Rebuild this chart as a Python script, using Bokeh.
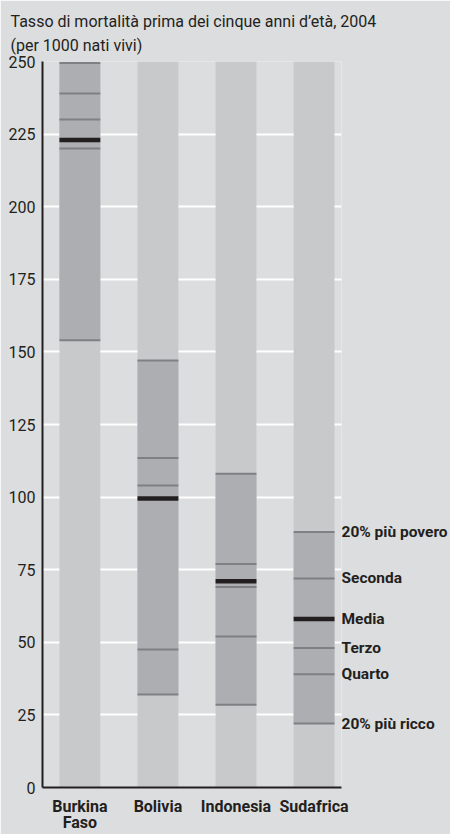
from bokeh.plotting import figure
from bokeh.models import Range1d, FixedTicker, LinearAxis
from bokeh.embed import file_html
from bokeh.resources import INLINE

# ---- data ----
countries = ["Burkina\nFaso", "Bolivia", "Indonesia", "Sudafrica"]
q_poorest = [249.5, 147.0, 108.0, 88.0]
q_second = [239.0, 113.5, 77.0, 72.0]
q_third = [230.0, 104.0, 69.0, 48.0]
q_fourth = [220.0, 47.5, 52.0, 39.0]
q_richest = [154.0, 32.0, 28.5, 22.0]
mean_rate = [223.0, 99.5, 71.0, 58.0]
y_ticks = [0, 25, 50, 75, 100, 125, 150, 175, 200, 225, 250]
scale_max = 250
legend_labels = ["20% più povero", "Seconda", "Media", "Terzo", "Quarto", "20% più ricco"]
title_text = "Tasso di mortalità prima dei cinque anni d’età, 2004\n(per 1000 nati vivi)"

# ---- styling ----
BG = "#dcdddf"
LIGHT = "#c8c9cb"
DARK = "#adaeb1"
QLINE = "#7f8083"
INK = "#231f20"
FONT = "Roboto"

W, H = 450, 834
FL, FR, FT, FB = 42, 108, 61, 47
PXU = 78.33                      # pixels per category step
x_start = -37.5 / PXU
x_end = x_start + (W - FL - FR) / PXU
bw = 41 / PXU

p = figure(width=W, height=H, x_range=Range1d(x_start, x_end), y_range=Range1d(0, scale_max),
           output_backend="svg", toolbar_location=None,
           min_border_left=FL, min_border_right=FR, min_border_top=FT, min_border_bottom=FB,
           background_fill_color=BG, border_fill_color=BG, outline_line_color=None)

xs = list(range(len(countries)))

# title
p.title.text = title_text
p.title.align = "left"
p.title.offset = -32
p.title.text_font = FONT
p.title.text_font_style = "normal"
p.title.text_font_size = "16px"
p.title.text_color = INK
p.title.standoff = 14
p.title.text_line_height = 1.25

# grid
p.xgrid.visible = False
p.ygrid.ticker = FixedTicker(ticks=y_ticks)
p.ygrid.grid_line_color = "white"
p.ygrid.grid_line_width = 2

# axes
p.yaxis.ticker = FixedTicker(ticks=y_ticks)
p.xaxis.ticker = FixedTicker(ticks=xs)
p.xaxis.major_label_overrides = {i: c for i, c in enumerate(countries)}
for ax in (p.xaxis[0], p.yaxis[0]):
    ax.major_tick_in = 0
    ax.major_tick_out = 0
    ax.minor_tick_line_color = None
    ax.axis_line_color = INK
    ax.axis_line_width = 2
    ax.major_label_text_color = INK
    ax.major_label_text_font = FONT
    ax.major_label_text_font_size = "16px"
p.yaxis[0].major_label_standoff = 7
p.xaxis[0].major_label_text_font_style = "bold"
p.xaxis[0].major_label_text_font_size = "16px"
p.xaxis[0].major_label_standoff = 9
p.xaxis[0].major_label_text_line_height = 0.85

# bars
p.vbar(x=xs, width=bw, bottom=0, top=scale_max, fill_color=LIGHT, line_color=None)
p.vbar(x=xs, width=bw, bottom=q_richest, top=q_poorest, fill_color=DARK, line_color=None)

x0 = [x - bw / 2 for x in xs]
x1 = [x + bw / 2 for x in xs]
for q in (q_poorest, q_second, q_third, q_fourth, q_richest):
    p.segment(x0=x0, x1=x1, y0=q, y1=q, line_color=QLINE, line_width=2)
p.segment(x0=x0, x1=x1, y0=mean_rate, y1=mean_rate, line_color=INK, line_width=4.5)

# legend: a right-hand axis whose ticks sit at the last country's values
last = len(countries) - 1
legend_y = [q_poorest[last], q_second[last], mean_rate[last], q_third[last], q_fourth[last], q_richest[last]]
rax = LinearAxis(ticker=FixedTicker(ticks=legend_y),
                 major_label_overrides={v: t for v, t in zip(legend_y, legend_labels)},
                 axis_line_color=None, major_tick_in=0, major_tick_out=0, minor_tick_line_color=None,
                 major_label_standoff=0, major_label_text_font=FONT, major_label_text_font_style="bold",
                 major_label_text_font_size="15.5px", major_label_text_color=INK)
p.add_layout(rax, "right")

open("out.html", "w").write(file_html(p, INLINE))
